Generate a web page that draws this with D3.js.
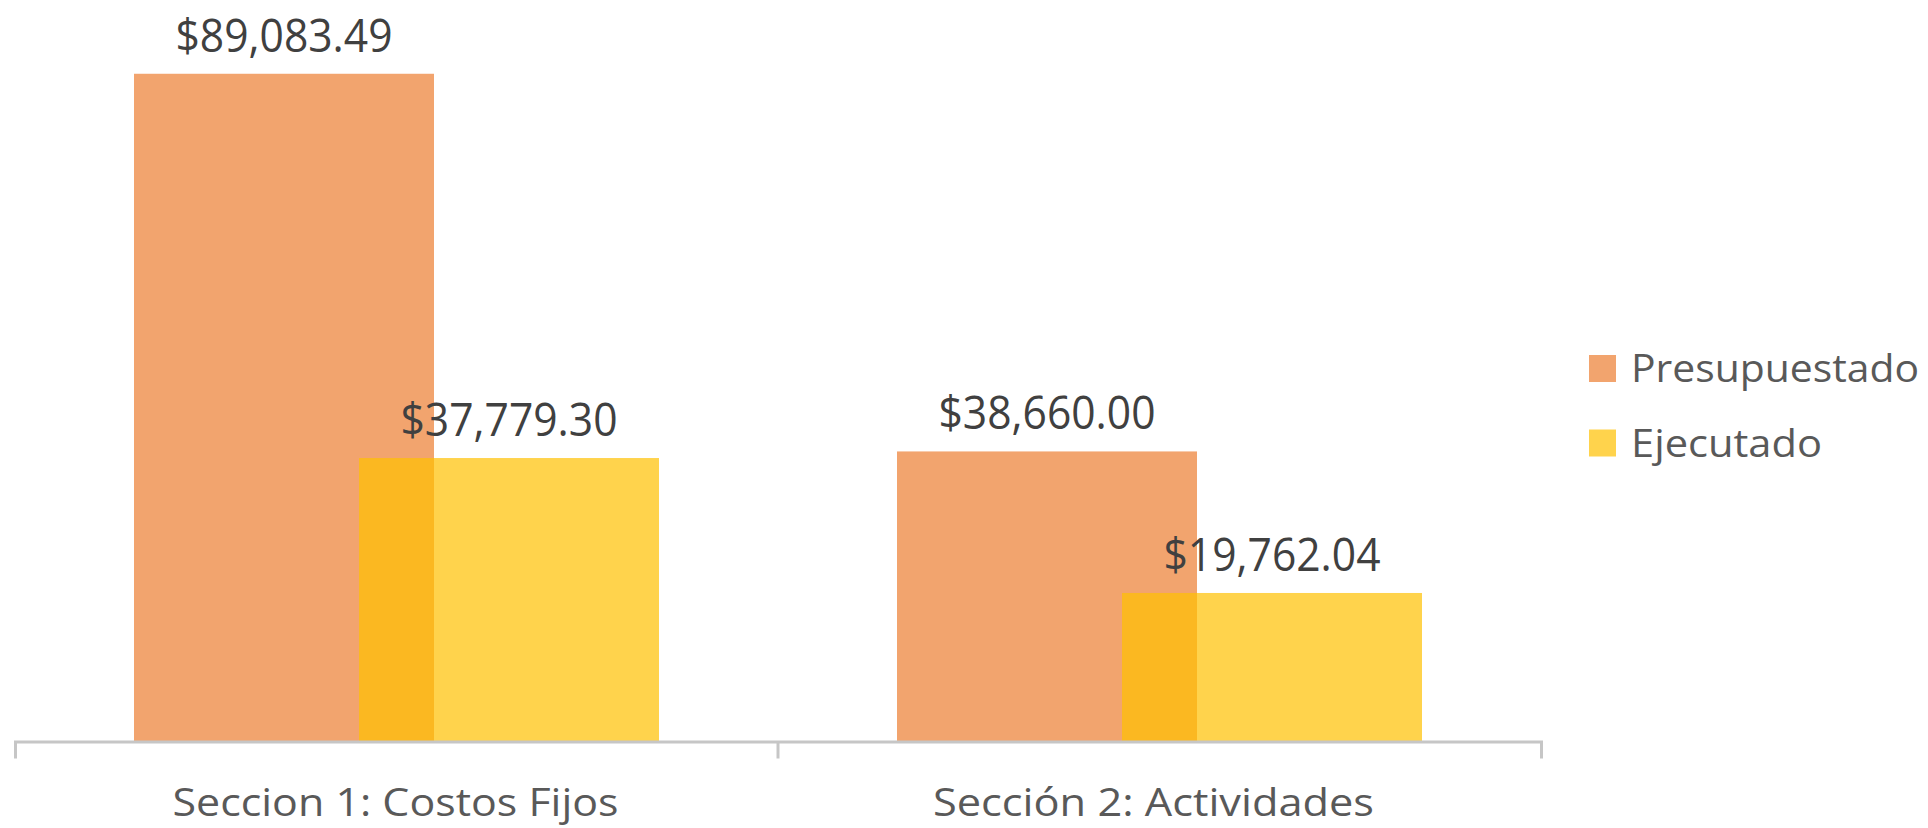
<!DOCTYPE html>
<html>
<head>
<meta charset="utf-8">
<script src="https://cdn.jsdelivr.net/npm/d3@7"></script>
<style>
  body { margin: 0; background: #fff; }
  svg text { font-family: "Open Sans", "Noto Sans", sans-serif; }
</style>
</head>
<body>
<div id="chart"></div>
<script>
// data
const categories = ["Seccion 1: Costos Fijos", "Sección 2: Actividades"];
const seriesNames = ["Presupuestado", "Ejecutado"];
const presupuestado = [89083.49, 38660.00];
const ejecutado = [37779.30, 19762.04];
const seriesColors = ["#ED7D31", "#FFC000"];

let width = 1928, height = 828;
let axisY = 741;

let svg = d3.select("#chart").append("svg")
    .attr("width", width)
    .attr("height", height);

// scales
let xScale = d3.scaleBand().domain(categories).range([15, 1541]).padding(0);
let subScale = d3.scalePoint().domain(seriesNames).range([-112.5, 112.5]);
let yScale = d3.scaleLinear().domain([0, 100000]).range([axisY, -8]);
let color = d3.scaleOrdinal().domain(seriesNames).range(seriesColors);
let barWidth = 300;
let fmt = d => "$" + d3.format(",.2f")(d);

let rows = [];
seriesNames.forEach((s, si) => {
    let vals = si === 0 ? presupuestado : ejecutado;
    categories.forEach((c, ci) => rows.push({cat: c, series: s, value: vals[ci]}));
});

let cx = d => xScale(d.cat) + xScale.bandwidth() / 2 + subScale(d.series);

// squeeze text horizontally to the wanted width
function fit(sel, w) {
    sel.attr("textLength", w).attr("lengthAdjust", "spacingAndGlyphs");
}

// bars
svg.append("g").selectAll("rect")
    .data(rows)
    .join("rect")
    .attr("x", d => cx(d) - barWidth / 2)
    .attr("y", d => yScale(d.value))
    .attr("width", barWidth)
    .attr("height", d => yScale(0) - yScale(d.value))
    .attr("fill", d => color(d.series))
    .attr("fill-opacity", 0.7);

// data labels
svg.append("g").selectAll("text")
    .data(rows)
    .join("text")
    .attr("x", d => cx(d))
    .attr("y", d => yScale(d.value) - 22)
    .attr("text-anchor", "middle")
    .attr("font-size", 45)
    .attr("fill", "#404040")
    .text(d => fmt(d.value))
    .call(fit, 217);

// x axis
let xAxis = d3.axisBottom(xScale).tickSize(0).tickSizeOuter(17).tickPadding(0);
let gx = svg.append("g")
    .attr("transform", "translate(0," + (axisY + 0.5) + ")")
    .call(xAxis);
gx.select(".domain").attr("stroke", "#C6C6C6").attr("stroke-width", 3);
gx.selectAll(".tick line").remove();
gx.selectAll(".tick text")
    .attr("x", (d, i) => i === 0 ? -1 : -6)
    .attr("y", 74)
    .attr("dy", 0)
    .attr("font-size", 39)
    .attr("fill", "#595959")
    .each(function(d, i) { d3.select(this).call(fit, i === 0 ? 446 : 441); });
// boundary tick between categories
gx.append("g").selectAll("line")
    .data(categories.slice(1))
    .join("line")
    .attr("x1", d => xScale(d)).attr("x2", d => xScale(d))
    .attr("y1", 0).attr("y2", 17)
    .attr("stroke", "#C6C6C6")
    .attr("stroke-width", 3);

// legend
let legend = svg.append("g").attr("transform", "translate(1589,355)");
let item = legend.selectAll("g")
    .data(seriesNames)
    .join("g")
    .attr("transform", (d, i) => "translate(0," + i * 74.5 + ")");
item.append("rect")
    .attr("width", 27).attr("height", 27)
    .attr("fill", d => color(d))
    .attr("fill-opacity", 0.7);
item.append("text")
    .attr("x", 42)
    .attr("y", 27)
    .attr("font-size", 38)
    .attr("fill", "#595959")
    .text(d => d)
    .each(function(d, i) { d3.select(this).call(fit, i === 0 ? 288 : 191); });
</script>
</body>
</html>
